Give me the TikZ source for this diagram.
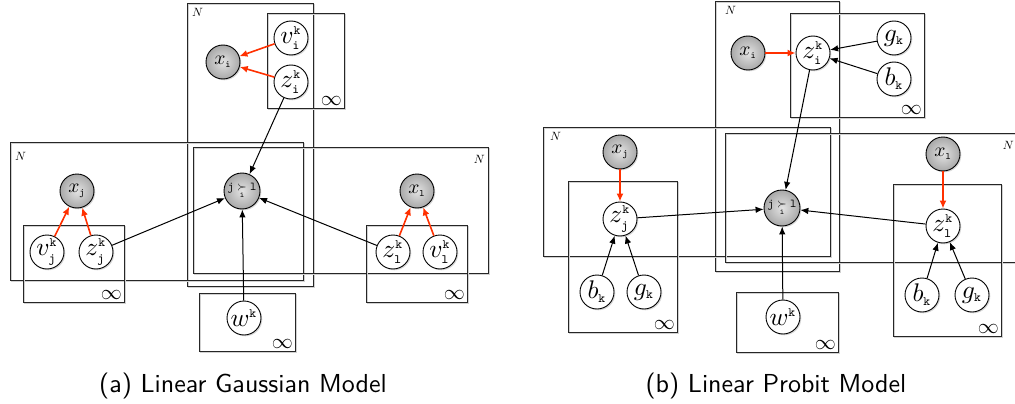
\RequirePackage{fix-cm}
\documentclass[tikz,border=0pt]{standalone}
\usepackage{graphicx}
\usetikzlibrary{arrows.meta,shadows}
\definecolor{redarr}{RGB}{255,48,0}
\newcommand{\tts}[1]{{\scriptscriptstyle\mathtt{#1}}}
\newcommand{\nbx}[1]{\scalebox{1.95}{$#1$}}
\newcommand{\nvz}[1]{\scalebox{2.55}{$#1$}}
\newcommand{\nrel}{\scalebox{1.2}{$\mathtt{j}\mathrel{\mathop{\succ}\limits_{\mathtt{i}}}\mathtt{l}$}}
\tikzset{
 var/.style={circle,draw=black,line width=0.9pt,minimum size=34pt,inner sep=0pt,fill=white,
   drop shadow={shadow xshift=1.3pt,shadow yshift=-1.3pt,opacity=0.3}},
 obs/.style={var,inner color=gray!22,outer color=gray!68},
 plate/.style={draw=black!85,line width=0.9pt},
 plateshadow/.style={draw=black!18,line width=1.2pt},
 nlab/.style={inner sep=0pt},
 inflab/.style={inner sep=0pt},
 arr/.style={-{Latex[length=8pt,width=6.5pt]},line width=1pt,draw=black},
 rarr/.style={-{Latex[length=8pt,width=7pt]},line width=1.6pt,draw=redarr},
 captext/.style={inner sep=0pt}
}
\newcommand{\plt}[4]{%
 \draw[plateshadow] (#1+1.3,#2+1.3) rectangle (#3+1.3,#4+1.3);
 \draw[plate] (#1,#2) rectangle (#3,#4);}
\newcommand{\nN}{\scalebox{1.2}{$N$}}
\newcommand{\nI}{\scalebox{2.1}{$\infty$}}
\begin{document}
\begin{tikzpicture}[x=1pt,y=-1pt]
\useasboundingbox (0,0) rectangle (1015,404);
% ---------- (a) plates
\plt{187}{3}{313}{286}
\node[nlab,anchor=north west] at (192,8) {\nN};
\plt{267}{13}{344}{108}
\node[inflab,anchor=south east] at (342,106) {\nI};
\plt{10}{142}{303}{280}
\node[nlab,anchor=north west] at (15,152) {\nN};
\plt{193}{147}{488}{273}
\node[nlab,anchor=north east] at (485,155) {\nN};
\plt{23}{225}{124}{302}
\node[inflab,anchor=south east] at (122,300) {\nI};
\plt{366}{225}{467}{302}
\node[inflab,anchor=south east] at (465,300) {\nI};
\plt{199}{293}{295}{351}
\node[inflab,anchor=south east] at (293,349) {\nI};
% ---------- (a) nodes
\node[obs] (xi) at (223,62) {\nbx{x_{\tts{i}}}};
\node[var] (vi) at (291,38) {\nvz{v^{\tts{k}}_{\tts{i}}}};
\node[var] (zi) at (291,82) {\nvz{z^{\tts{k}}_{\tts{i}}}};
\node[obs,minimum size=36pt] (jl) at (242,191) {\nrel};
\node[obs] (xj) at (77,191) {\nbx{x_{\tts{j}}}};
\node[var] (vj) at (47,252) {\nvz{v^{\tts{k}}_{\tts{j}}}};
\node[var] (zj) at (96,252) {\nvz{z^{\tts{k}}_{\tts{j}}}};
\node[obs] (xl) at (417,191) {\nbx{x_{\tts{l}}}};
\node[var] (zl) at (393,252) {\nvz{z^{\tts{k}}_{\tts{l}}}};
\node[var] (vl) at (440,252) {\nvz{v^{\tts{k}}_{\tts{l}}}};
\node[var] (w) at (244,318) {\nvz{w^{\tts{k}}}};
% ---------- (a) edges
\draw[rarr] (vi) -- (xi);
\draw[rarr] (zi) -- (xi);
\draw[arr] (zi) -- (jl);
\draw[rarr] (vj) -- (xj);
\draw[rarr] (zj) -- (xj);
\draw[arr] (zj) -- (jl);
\draw[rarr] (zl) -- (xl);
\draw[rarr] (vl) -- (xl);
\draw[arr] (zl) -- (jl);
\draw[arr] (w) -- (jl);
% ---------- (b) plates
\plt{715}{1}{839}{271}
\node[nlab,anchor=north west] at (725,6) {\nN};
\plt{790}{13}{924}{117}
\node[inflab,anchor=south east] at (922,115) {\nI};
\plt{543}{127}{830}{256}
\node[nlab,anchor=north west] at (550,132) {\nN};
\plt{725}{133}{1019}{262}
\node[nlab,anchor=north east] at (1014,141) {\nN};
\plt{568}{181}{677}{332}
\node[inflab,anchor=south east] at (675,330) {\nI};
\plt{893}{184}{1001}{336}
\node[inflab,anchor=south east] at (999,334) {\nI};
\plt{736}{292}{838}{352}
\node[inflab,anchor=south east] at (836,350) {\nI};
% ---------- (b) nodes
\node[obs] (xib) at (748,53) {\nbx{x_{\tts{i}}}};
\node[var] (zib) at (813,53) {\nvz{z^{\tts{k}}_{\tts{i}}}};
\node[var] (gib) at (894,38) {\nvz{g_{\tts{k}}}};
\node[var] (bib) at (894,79) {\nvz{b_{\tts{k}}}};
\node[obs,minimum size=36pt] (jlb) at (782,208) {\nrel};
\node[obs] (xjb) at (620,152) {\nbx{x_{\tts{j}}}};
\node[var] (zjb) at (620,219) {\nvz{z^{\tts{k}}_{\tts{j}}}};
\node[var] (bjb) at (597,292) {\nvz{b_{\tts{k}}}};
\node[var] (gjb) at (644,292) {\nvz{g_{\tts{k}}}};
\node[obs] (xlb) at (943,154) {\nbx{x_{\tts{l}}}};
\node[var] (zlb) at (943,226) {\nvz{z^{\tts{k}}_{\tts{l}}}};
\node[var] (blb) at (922,295) {\nvz{b_{\tts{k}}}};
\node[var] (glb) at (972,295) {\nvz{g_{\tts{k}}}};
\node[var] (wb) at (783,317) {\nvz{w^{\tts{k}}}};
% ---------- (b) edges
\draw[rarr] (xib) -- (zib);
\draw[arr] (gib) -- (zib);
\draw[arr] (bib) -- (zib);
\draw[arr] (zib) -- (jlb);
\draw[rarr] (xjb) -- (zjb);
\draw[arr] (bjb) -- (zjb);
\draw[arr] (gjb) -- (zjb);
\draw[arr] (zjb) -- (jlb);
\draw[rarr] (xlb) -- (zlb);
\draw[arr] (blb) -- (zlb);
\draw[arr] (glb) -- (zlb);
\draw[arr] (zlb) -- (jlb);
\draw[arr] (wb) -- (jlb);
% ---------- captions
\node[captext] (capa) at (243,386) {\scalebox{2.6}{\sffamily (a) Linear Gaussian Model}};
\node[captext] (capb) at (776,386) {\scalebox{2.6}{\sffamily (b) Linear Probit Model}};
\end{tikzpicture}
\end{document}
